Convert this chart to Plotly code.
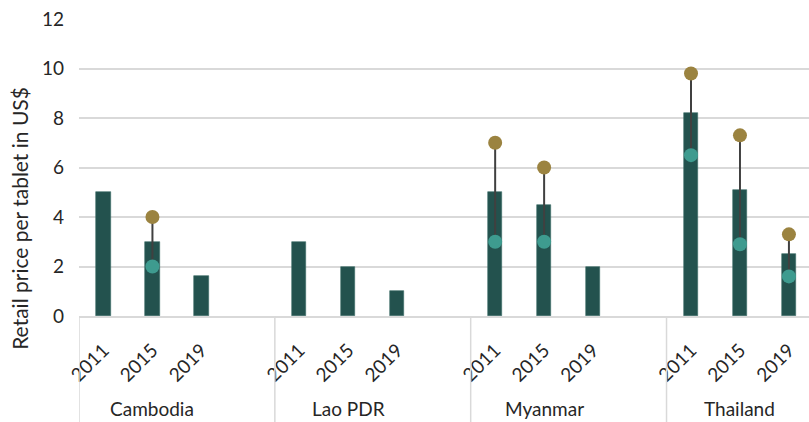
import plotly.graph_objects as go

countries = ["Cambodia", "Lao PDR", "Myanmar", "Thailand"]
years = ["2011", "2015", "2019"]
bar_values = [5, 3, 1.6, 3, 2, 1, 5, 4.5, 2, 8.2, 5.1, 2.5]
min_values = [None, 2, None, None, None, None, 3, 3, None, 6.5, 2.9, 1.6]
max_values = [None, 4, None, None, None, None, 7, 6, None, 9.8, 7.3, 3.3]
y_ticks = [0, 2, 4, 6, 8, 10, 12]

# slot positions: 3 years per country plus one empty slot between groups
xpos = [g * 4 + i for g in range(len(countries)) for i in range(len(years))]
xlabels = [y for _ in countries for y in years]

FONT = "Lato, 'Open Sans', sans-serif"
TXT = "#262626"
GRID = "#d9d9d9"

fig = go.Figure()
fig.add_trace(go.Bar(x=xpos, y=bar_values, width=0.29,
                     marker=dict(color="#23524E", line=dict(color="#3a6b66", width=0.6)),
                     showlegend=False, hoverinfo="y"))

ex, emin, emax = [], [], []
for x, lo, hi in zip(xpos, min_values, max_values):
    if lo is not None:
        ex.append(x); emin.append(lo); emax.append(hi)

fig.add_trace(go.Scatter(x=ex, y=emin, mode="markers",
                         marker=dict(color="#3E9B8F", size=14),
                         error_y=dict(type="data", symmetric=False,
                                      array=[h - l for h, l in zip(emax, emin)],
                                      arrayminus=[0] * len(emin),
                                      color="#404040", thickness=2, width=0),
                         showlegend=False))
fig.add_trace(go.Scatter(x=ex, y=emax, mode="markers",
                         marker=dict(color="#9B8340", size=14),
                         showlegend=False))

# group labels and separators
for g, c in enumerate(countries):
    fig.add_annotation(x=g * 4 + 1, y=-0.312, xref="x", yref="paper",
                       text=c, showarrow=False, yanchor="middle",
                       font=dict(family=FONT, size=19, color=TXT))
for g in range(len(countries)):
    fig.add_shape(type="line", xref="x", yref="paper",
                  x0=g * 4 - 0.5, x1=g * 4 - 0.5, y0=0, y1=-0.36,
                  line=dict(color=GRID, width=1.5))

fig.add_annotation(x=-0.081, y=0.33, xref="paper", yref="paper",
                   text="Retail price per tablet in US$", textangle=-90,
                   showarrow=False, xanchor="center", yanchor="middle",
                   font=dict(family=FONT, size=21, color=TXT))

fig.update_layout(
    width=809, height=422,
    margin=dict(l=79, r=0, t=19, b=106),
    plot_bgcolor="white", paper_bgcolor="white",
    font=dict(family=FONT, color=TXT),
    bargap=0,
    xaxis=dict(range=[-0.5, 14.41], tickvals=xpos, ticktext=xlabels,
               tickangle=-45, tickfont=dict(size=19, color=TXT),
               ticklabelstandoff=14,
               showgrid=False, zeroline=False, showline=True,
               linecolor=GRID, linewidth=1.5, ticks="", automargin=False),
    yaxis=dict(range=[0, 12], tickvals=y_ticks, showgrid=True,
               gridcolor=GRID, gridwidth=1.5, zeroline=False,
               showline=False, ticks="", ticklabelstandoff=14,
               tickfont=dict(size=19, color=TXT), automargin=False),
)

fig.write_html("out.html", config={"displayModeBar": False},
               post_script="document.body.style.margin='0';document.body.style.overflow='hidden';")
